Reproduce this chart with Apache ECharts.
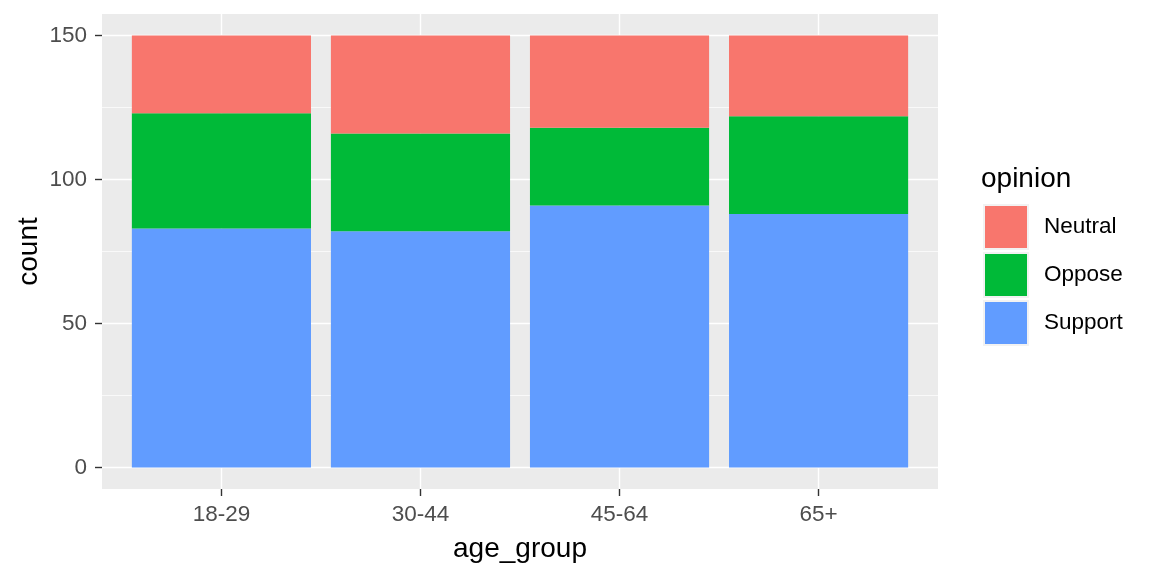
<!DOCTYPE html>
<html>
<head>
<meta charset="utf-8">
<script src="https://cdn.jsdelivr.net/npm/echarts@6/dist/echarts.min.js"></script>
<style>
  html, body { margin: 0; padding: 0; background: #fff; }
  #main { width: 1152px; height: 576px; }
</style>
</head>
<body>
<div id="main"></div>
<script>
var ageGroups = ['18-29', '30-44', '45-64', '65+'];
var support = [83, 82, 91, 88];
var oppose = [40, 34, 27, 34];
var neutral = [27, 34, 32, 28];
var yTicks = [0, 50, 100, 150];
var yMinor = [25, 75, 125];
var xTicks = [1, 2, 3, 4];

var font = "'Liberation Sans', Arial, sans-serif";
var myChart = echarts.init(document.getElementById('main'));

myChart.setOption({
    animation: false,
    title: {
        text: 'opinion',
        left: 981,
        top: 165,
        padding: 0,
        textStyle: { fontFamily: font, fontSize: 28, fontWeight: 'normal', color: '#000' }
    },
    legend: {
        orient: 'vertical',
        left: 983,
        top: 204,
        padding: 0,
        itemWidth: 44,
        itemHeight: 44,
        itemGap: 2,
        selectedMode: false,
        icon: 'rect',
        data: ['Neutral', 'Oppose', 'Support'],
        itemStyle: { borderColor: '#F2F2F2', borderWidth: 2 },
        textStyle: { fontFamily: font, fontSize: 22.5, color: '#000', padding: [0, 0, 0, 11] }
    },
    grid: [
        // panel
        { left: 102, right: 214, top: 14, bottom: 87, show: true, backgroundColor: '#EBEBEB', borderWidth: 0 },
        // bars: band 0.5..4.5 of the panel's 0.4..4.6 range
        { left: 121.9, right: 233.9, top: 14, bottom: 87 }
    ],
    xAxis: [
        {
            type: 'value', gridIndex: 0, min: 0.4, max: 4.6, position: 'bottom',
            name: 'age_group', nameLocation: 'middle', nameGap: 46, nameMoveOverlap: false,
            nameTextStyle: { fontFamily: font, fontSize: 28, color: '#000' },
            axisLine: { show: false, onZero: false },
            axisTick: { show: true, length: 7, customValues: xTicks, lineStyle: { color: '#333', width: 1.4 } },
            axisLabel: {
                customValues: xTicks, margin: 14,
                fontFamily: font, fontSize: 22.5, color: '#4D4D4D',
                formatter: function (v) { return ageGroups[Math.round(v) - 1]; }
            },
            splitLine: { show: true, lineStyle: { color: '#fff', width: 1.4 } }
        },
        {
            type: 'category', gridIndex: 1, data: ageGroups, show: false
        }
    ],
    yAxis: [
        {
            type: 'value', gridIndex: 0, min: -7.5, max: 157.5, position: 'left',
            name: 'count', nameLocation: 'middle', nameGap: 59, nameRotate: 90, nameMoveOverlap: false,
            nameTextStyle: { fontFamily: font, fontSize: 28, color: '#000' },
            axisLine: { show: false, onZero: false },
            axisTick: { show: true, length: 7, customValues: yTicks, lineStyle: { color: '#333', width: 1.4 } },
            axisLabel: { customValues: yTicks, margin: 15, fontFamily: font, fontSize: 22.5, color: '#4D4D4D' },
            splitLine: { show: true, lineStyle: { color: '#fff', width: 1.4 } }
        },
        {
            type: 'value', gridIndex: 1, min: -7.5, max: 157.5, show: false, splitLine: { show: false }
        }
    ],
    series: [
        {
            // minor grid lines only
            type: 'line', xAxisIndex: 0, yAxisIndex: 0, data: [], silent: true,
            markLine: {
                silent: true, z: 1, symbol: 'none', label: { show: false },
                lineStyle: { color: '#fff', width: 0.7, type: 'solid' },
                data: yMinor.map(function (v) { return { yAxis: v }; })
            }
        },
        {
            name: 'Support', type: 'bar', stack: 'all', xAxisIndex: 1, yAxisIndex: 1,
            barWidth: '90%', itemStyle: { color: '#619CFF' }, data: support
        },
        {
            name: 'Oppose', type: 'bar', stack: 'all', xAxisIndex: 1, yAxisIndex: 1,
            barWidth: '90%', itemStyle: { color: '#00BA38' }, data: oppose
        },
        {
            name: 'Neutral', type: 'bar', stack: 'all', xAxisIndex: 1, yAxisIndex: 1,
            barWidth: '90%', itemStyle: { color: '#F8766D' }, data: neutral
        }
    ]
});
</script>
</body>
</html>
